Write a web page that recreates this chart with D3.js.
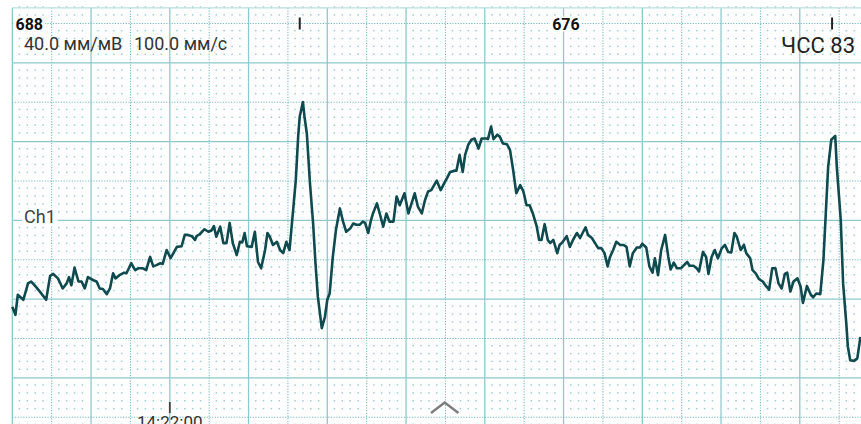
<!DOCTYPE html>
<html lang="ru">
<head>
    <meta charset="UTF-8">
    <title>ECG Ch1</title>
    <style>
        body {
            margin: 0;
            padding: 0;
            background-color: #fff;
            overflow: hidden;
        }
        svg text {
            font-family: 'Roboto', 'Noto Sans', sans-serif;
        }
        .grid-solid {
            stroke: #8dc9cd;
            stroke-width: 1.3px;
        }
        .grid-dotted {
            stroke: #74bcc2;
            stroke-width: 1.1px;
            stroke-dasharray: 1.2 1.5;
        }
        .grid-dot {
            fill: #9bcfd3;
        }
        .trace {
            fill: none;
            stroke: #0f4a4f;
            stroke-width: 2.6px;
            stroke-linejoin: round;
        }
    </style>
</head>
<body>
    <div id="chart"></div>

    <script src="https://d3js.org/d3.v7.min.js"></script>
    <script>
        // samples: time in ms from 14:22:00, amplitude in µV
        const timeMs = [
            -200, -196, -193, -186, -180, -176, -171, -165, -157, -152, -148, -142, -136, -131, -128, -125,
            -121, -116, -112, -108, -104, -97, -93, -89, -85, -80, -76, -72, -69, -64, -58, -55,
            -49, -44, -40, -34, -30, -25, -21, -17, -12, -9, -4, 1, 9, 15, 19, 23,
            28, 32, 34, 38, 44, 49, 53, 56, 59, 64, 68, 72, 76, 80, 85, 89,
            92, 95, 98, 104, 108, 112, 116, 121, 124, 127, 131, 136, 140, 144, 148, 152,
            157, 160, 163, 165, 169, 171, 174, 178, 182, 185, 188, 193, 197, 200, 203, 207,
            211, 216, 220, 224, 229, 233, 237, 241, 245, 248, 252, 255, 258, 263, 267, 271,
            275, 279, 284, 288, 292, 298, 303, 307, 311, 315, 320, 324, 328, 332, 339, 344,
            348, 352, 356, 362, 364, 368, 372, 375, 379, 383, 387, 392, 396, 402, 404, 408,
            411, 416, 419, 423, 428, 432, 436, 440, 445, 449, 453, 457, 461, 466, 469, 472,
            476, 480, 483, 487, 492, 495, 499, 504, 508, 512, 517, 521, 525, 528, 531, 536,
            540, 544, 548, 552, 556, 559, 563, 567, 572, 576, 580, 584, 588, 593, 597, 600,
            605, 609, 613, 616, 620, 624, 629, 633, 636, 640, 644, 649, 653, 657, 660, 665,
            669, 672, 677, 681, 684, 688, 692, 696, 701, 705, 709, 713, 717, 720, 725, 729,
            732, 737, 740, 744, 748, 753, 757, 761, 765, 769, 773, 777, 781, 784, 788, 792,
            797, 801, 804, 809, 814, 817, 821, 826, 830, 833, 836, 840, 845, 847, 852, 855,
            859, 861, 864, 869, 873, 877
        ];
        const ampUv = [
            -274, -300, -236, -252, -200, -194, -208, -226, -252, -176, -170, -184, -216, -200, -180, -206,
            -150, -194, -194, -216, -180, -190, -194, -216, -218, -234, -216, -168, -184, -174, -166, -168,
            -136, -158, -152, -152, -158, -116, -146, -142, -136, -138, -94, -120, -84, -82, -46, -46,
            -50, -62, -50, -44, -28, -36, -32, -18, -52, -20, -72, -72, -8, -72, -110, -68,
            -70, -40, -82, -84, -36, -132, -152, -94, -40, -52, -78, -68, -94, -104, -68, -94,
            44, 128, 266, 330, 376, 330, 276, 118, -10, -136, -242, -342, -306, -252, -232, -116,
            -30, 38, -4, -36, -26, -10, -14, -14, -4, -8, -40, -4, 22, 54, 18, -20,
            22, -4, -4, 76, 48, 86, 22, 54, 86, 44, 22, 64, 92, 96, 126, 96,
            116, 134, 154, 158, 158, 208, 154, 208, 240, 256, 260, 228, 260, 260, 258, 298,
            258, 272, 266, 244, 242, 224, 160, 86, 112, 92, 48, 48, 22, -20, -62, -62,
            -12, -62, -72, -62, -104, -78, -68, -50, -84, -62, -40, -56, -36, -22, -46, -56,
            -72, -88, -88, -104, -146, -116, -94, -68, -78, -78, -84, -146, -104, -86, -86, -74,
            -86, -146, -166, -120, -174, -94, -46, -116, -156, -134, -152, -152, -142, -132, -144, -144,
            -152, -162, -100, -116, -170, -116, -94, -120, -88, -78, -100, -102, -40, -52, -94, -78,
            -104, -120, -158, -168, -186, -194, -208, -220, -152, -152, -200, -216, -170, -166, -226, -194,
            -184, -210, -262, -208, -236, -244, -232, -234, -126, 22, 170, 256, 268, 170, 2, -200,
            -326, -400, -444, -446, -438, -370
        ];

        // R-peak markers and the RR intervals (ms) written between them
        const rPeaks = [-522, 165, 841];
        const rrIntervals = [688, 676];
        const heartRate = 83;
        const gainLabel = '40.0 мм/мВ';
        const speedLabel = '100.0 мм/с';
        const channelName = 'Ch1';
        const startTime = '14:22:00';

        const width = 861;
        const height = 424;
        const mmPx = 7.875;          // one millimetre of paper
        const speed = 100;           // mm/s
        const gain = 40;             // mm/mV
        const originX = 169.8;       // x of 14:22:00
        const baselineY = 220.4;     // y of 0 µV

        const x = d3.scaleLinear()
            .domain([0, 1000])
            .range([originX, originX + mmPx * speed]);
        const y = d3.scaleLinear()
            .domain([0, 1000])
            .range([baselineY, baselineY - mmPx * gain]);

        const svg = d3.select('#chart')
            .append('svg')
            .attr('width', width)
            .attr('height', height);

        // paper grid: 1 mm = 10 ms horizontally, 25 µV vertically
        const tStart = -200, tEnd = x.invert(width);
        const vTop = 675, vBottom = y.invert(height + 10);
        const gridTop = y(vTop);
        const gridLeft = x(tStart);

        const tMm = d3.range(tStart, tEnd + 10, 10);
        const vMm = d3.range(vTop, vBottom - 25, -25);

        const grid = svg.append('g');

        const dots = [];
        tMm.forEach(t => {
            vMm.forEach(v => {
                if (Math.round(t) % 50 !== 0 && Math.round(v) % 125 !== 0) dots.push([t, v]);
            });
        });
        grid.selectAll('.grid-dot')
            .data(dots)
            .enter()
            .append('rect')
            .attr('class', 'grid-dot')
            .attr('x', d => x(d[0]) - 1.5)
            .attr('y', d => y(d[1]) - 1.5)
            .attr('width', 1.5)
            .attr('height', 1.5);

        const vLines = tMm.filter(t => t % 50 === 0);
        grid.selectAll('.vline')
            .data(vLines)
            .enter()
            .append('line')
            .attr('class', t => t % 100 === 0 ? 'grid-solid' : 'grid-dotted')
            .attr('x1', t => x(t)).attr('x2', t => x(t))
            .attr('y1', gridTop).attr('y2', height);

        const hLines = vMm.filter(v => v % 125 === 0);
        grid.selectAll('.hline')
            .data(hLines)
            .enter()
            .append('line')
            .attr('class', v => v % 250 === 0 ? 'grid-solid' : 'grid-dotted')
            .attr('x1', gridLeft).attr('x2', width)
            .attr('y1', v => y(v)).attr('y2', v => y(v));

        grid.append('line')
            .attr('class', 'grid-solid')
            .attr('x1', gridLeft).attr('x2', width)
            .attr('y1', gridTop).attr('y2', gridTop)
            .style('stroke', '#b9dfe1');

        // text with an optional white patch behind it
        function label(txt, px, py, opts) {
            const g = svg.append('g');
            const bg = g.append('rect').attr('fill', '#fff');
            const t = g.append('text')
                .attr('x', px)
                .attr('y', py)
                .style('font-size', opts.size + 'px')
                .style('font-weight', opts.bold ? 'bold' : 'normal')
                .style('fill', opts.color)
                .style('text-anchor', opts.anchor || 'start')
                .text(txt);
            if (opts.patch) {
                const b = t.node().getBBox();
                bg.attr('x', b.x - 2).attr('y', b.y + 2)
                    .attr('width', b.width + 4).attr('height', b.height - 4);
            }
            return g;
        }

        // trace
        const samples = timeMs.map((t, i) => [t, ampUv[i]]);
        svg.append('path')
            .datum(samples)
            .attr('class', 'trace')
            .attr('d', d3.line().x(d => x(d[0])).y(d => y(d[1])));

        // R markers and RR values
        svg.selectAll('.rmark')
            .data(rPeaks)
            .enter()
            .append('line')
            .attr('x1', d => x(d)).attr('x2', d => x(d))
            .attr('y1', 17.5).attr('y2', 29.5)
            .style('stroke', '#222')
            .style('stroke-width', 2);

        rrIntervals.forEach((rr, i) => {
            const mid = (rPeaks[i] + rPeaks[i + 1]) / 2;
            label(String(rr), x(mid), 29.5, { size: 16, bold: true, color: '#111', anchor: 'middle', patch: true });
        });

        label(gainLabel, 24, 49.5, { size: 18, color: '#333' });
        label(speedLabel, 134, 49.5, { size: 18, color: '#333' });
        label('ЧСС ' + heartRate, 855, 53, { size: 22, color: '#222', anchor: 'end' });
        label(channelName, 24, 223, { size: 18, color: '#444', patch: true });

        // time stamp at the bottom, cut by the window edge as on the device
        svg.append('line')
            .attr('x1', x(0)).attr('x2', x(0))
            .attr('y1', 402).attr('y2', 413)
            .style('stroke', '#444')
            .style('stroke-width', 1.8);
        label(startTime, x(0), 428, { size: 17, color: '#333', anchor: 'middle' });

        // scroll handle
        svg.append('path')
            .attr('d', 'M431,413 L444.7,402.5 L458.5,413')
            .style('fill', 'none')
            .style('stroke', '#7d7d7d')
            .style('stroke-width', 2.4);
    </script>
</body>
</html>
